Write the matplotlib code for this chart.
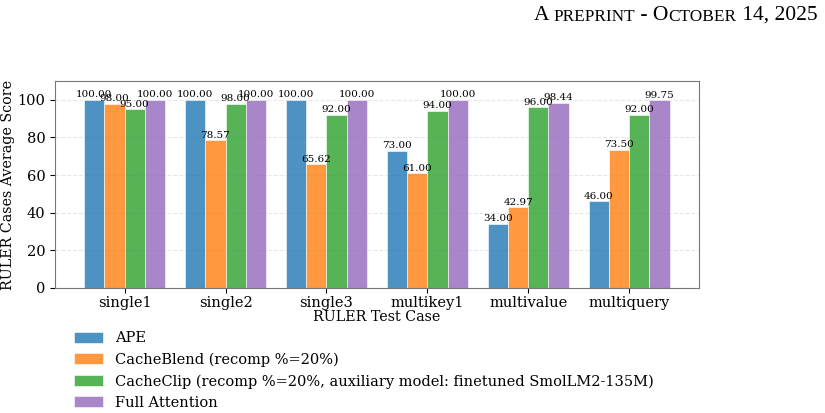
import numpy as np
import matplotlib.pyplot as plt

plt.rcParams['font.family'] = 'DejaVu Serif'

# test cases
cases = ['single1', 'single2', 'single3', 'multikey1', 'multivalue', 'multiquery']

# scores per method
ape = [100.00, 100.00, 100.00, 73.00, 34.00, 46.00]
cacheblend = [98.00, 78.57, 65.62, 61.00, 42.97, 73.50]
cacheclip = [95.00, 98.00, 92.00, 94.00, 96.00, 92.00]
full_attn = [100.00, 100.00, 100.00, 100.00, 98.44, 99.75]

labels = ['APE',
          'CacheBlend (recomp %=20%)',
          'CacheClip (recomp %=20%, auxiliary model: finetuned SmolLM2-135M)',
          'Full Attention']
colors = ['tab:blue', 'tab:orange', 'tab:green', 'tab:purple']

fig = plt.figure(figsize=(8.25, 4.13), dpi=100)
ax = fig.add_axes([0.0667, 0.3027, 0.7803, 0.5013])

x = np.arange(len(cases))
w = 0.2
series = [ape, cacheblend, cacheclip, full_attn]
for i, vals in enumerate(series):
    pos = x + (i - 1.5) * w
    bars = ax.bar(pos, vals, w, color=colors[i], alpha=0.8, label=labels[i],
                  edgecolor='white', linewidth=0.5)
    for b, v in zip(bars, vals):
        ax.text(b.get_x() + b.get_width() / 2, v + 0.3, '%.2f' % v,
                ha='center', va='bottom', fontsize=7.5)

ax.set_ylim(0, 110)
ax.set_xticks(x)
ax.set_xticklabels(cases, fontsize=10.5)
ax.tick_params(axis='y', labelsize=10.5)
ax.tick_params(axis='x', pad=2.5)
ax.set_xlabel('RULER Test Case', fontsize=10.3, labelpad=0)
ax.set_ylabel('RULER Cases Average Score', fontsize=10.3, labelpad=2)
ax.grid(axis='y', linestyle='--', alpha=0.3)
ax.set_axisbelow(True)
for s in ax.spines.values():
    s.set_color('#777777')

fig.legend(loc='upper left', bbox_to_anchor=(0.09, 0.198), frameon=False,
           fontsize=10.5, handlelength=2.0, handleheight=0.8,
           labelspacing=0.5, borderaxespad=0, borderpad=0)

# header in small caps, pieces chained so each starts where the last ends
parts = [('A ', 15.5), ('PREPRINT', 12.4), (' - O', 15.5), ('CTOBER', 12.4), (' 14, 2025', 15.5)]
prev = fig.text(0.647, 0.952, parts[0][0], fontsize=parts[0][1],
                family='Liberation Serif', ha='left', va='baseline')
for txt, fs in parts[1:]:
    prev = ax.annotate(txt, xy=(1, 0), xycoords=prev, fontsize=fs,
                       family='Liberation Serif', ha='left', va='bottom',
                       annotation_clip=False)

fig.savefig('out.png', dpi=100)
